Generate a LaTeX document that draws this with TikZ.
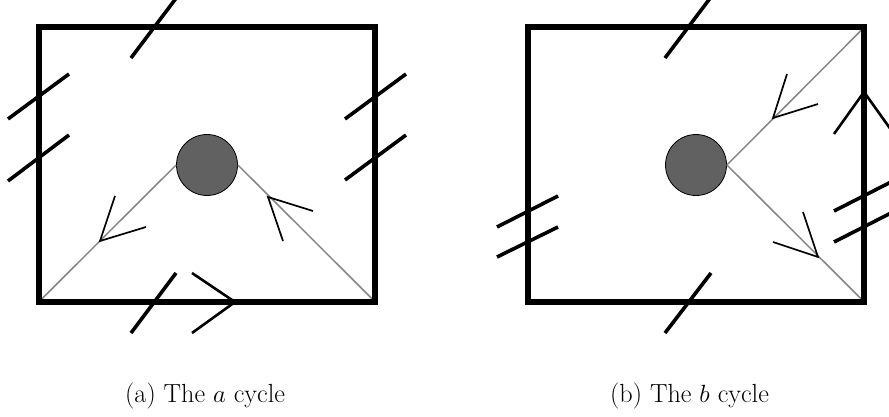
\documentclass[tikz,border=0pt]{standalone}
\begin{document}
\begin{tikzpicture}[x=1pt,y=-1pt,
  frame/.style={line width=6pt},
  tick/.style={line width=3.6pt},
  chev/.style={line width=2.6pt,line join=miter},
  cyclepath/.style={line width=1.5pt,draw=black!48},
  arrowhd/.style={line width=1.7pt,line join=miter},
  hole/.style={circle,draw=black,line width=0.8pt,fill=black!62,minimum size=61pt,inner sep=0pt},
  captext/.style={anchor=base west,inner sep=0pt,font=\fontsize{26.2}{30}\selectfont}]
\useasboundingbox (0,0) rectangle (889,417);
\clip (0,0) rectangle (889,417);
% ---------- panel (a) ----------
\coordinate (aTL) at (39,27.5);
\coordinate (aTR) at (375,27.5);
\coordinate (aBL) at (39,301.7);
\coordinate (aBR) at (375,301.7);
\node[hole] (ca) at (207,165) {};
\draw[cyclepath] (ca.west) -- (aBL);
\draw[cyclepath] (ca.east) -- (aBR);
\draw[frame] (aTL) -- (aTR) -- (aBR) -- (aBL) -- cycle;
\draw[arrowhd] (115,196) -- (100,241) -- (146,227);
\draw[arrowhd] (283,241) -- (268,197) -- (313,211);
\draw[tick] (131,58) -- (177,-3);
\draw[tick] (8,119) -- (69,74);
\draw[tick] (8,181) -- (69,135);
\draw[tick] (345,119) -- (406,74);
\draw[tick] (345,180) -- (406,135);
\draw[tick] (131,333) -- (176,273);
\draw[chev] (192,273) -- (235,302) -- (192,333);
\node[captext] (capa) at (125,402) {(a) The $a$ cycle};
% ---------- panel (b) ----------
\coordinate (bTL) at (528,27.5);
\coordinate (bTR) at (864,27.5);
\coordinate (bBL) at (528,301.7);
\coordinate (bBR) at (864,301.7);
\node[hole] (cb) at (696,165) {};
\draw[cyclepath] (cb.east) -- (bTR);
\draw[cyclepath] (cb.east) -- (bBR);
\draw[frame] (bTL) -- (bTR) -- (bBR) -- (bBL) -- cycle;
\draw[arrowhd] (787,74) -- (773,118) -- (818,104);
\draw[arrowhd] (803,212) -- (818,257) -- (773,242);
\draw[tick] (665,58) -- (711,-3);
\draw[tick] (665,333) -- (711,273);
\draw[tick] (497,227) -- (558,196);
\draw[tick] (497,257) -- (558,227);
\draw[tick] (834,211) -- (900,177.4);
\draw[tick] (834,242) -- (900,208.4);
\draw[chev] (834,134) -- (864,92) -- (895,135.4);
\node[captext] (capb) at (610,402) {(b) The $b$ cycle};
\end{tikzpicture}
\end{document}
